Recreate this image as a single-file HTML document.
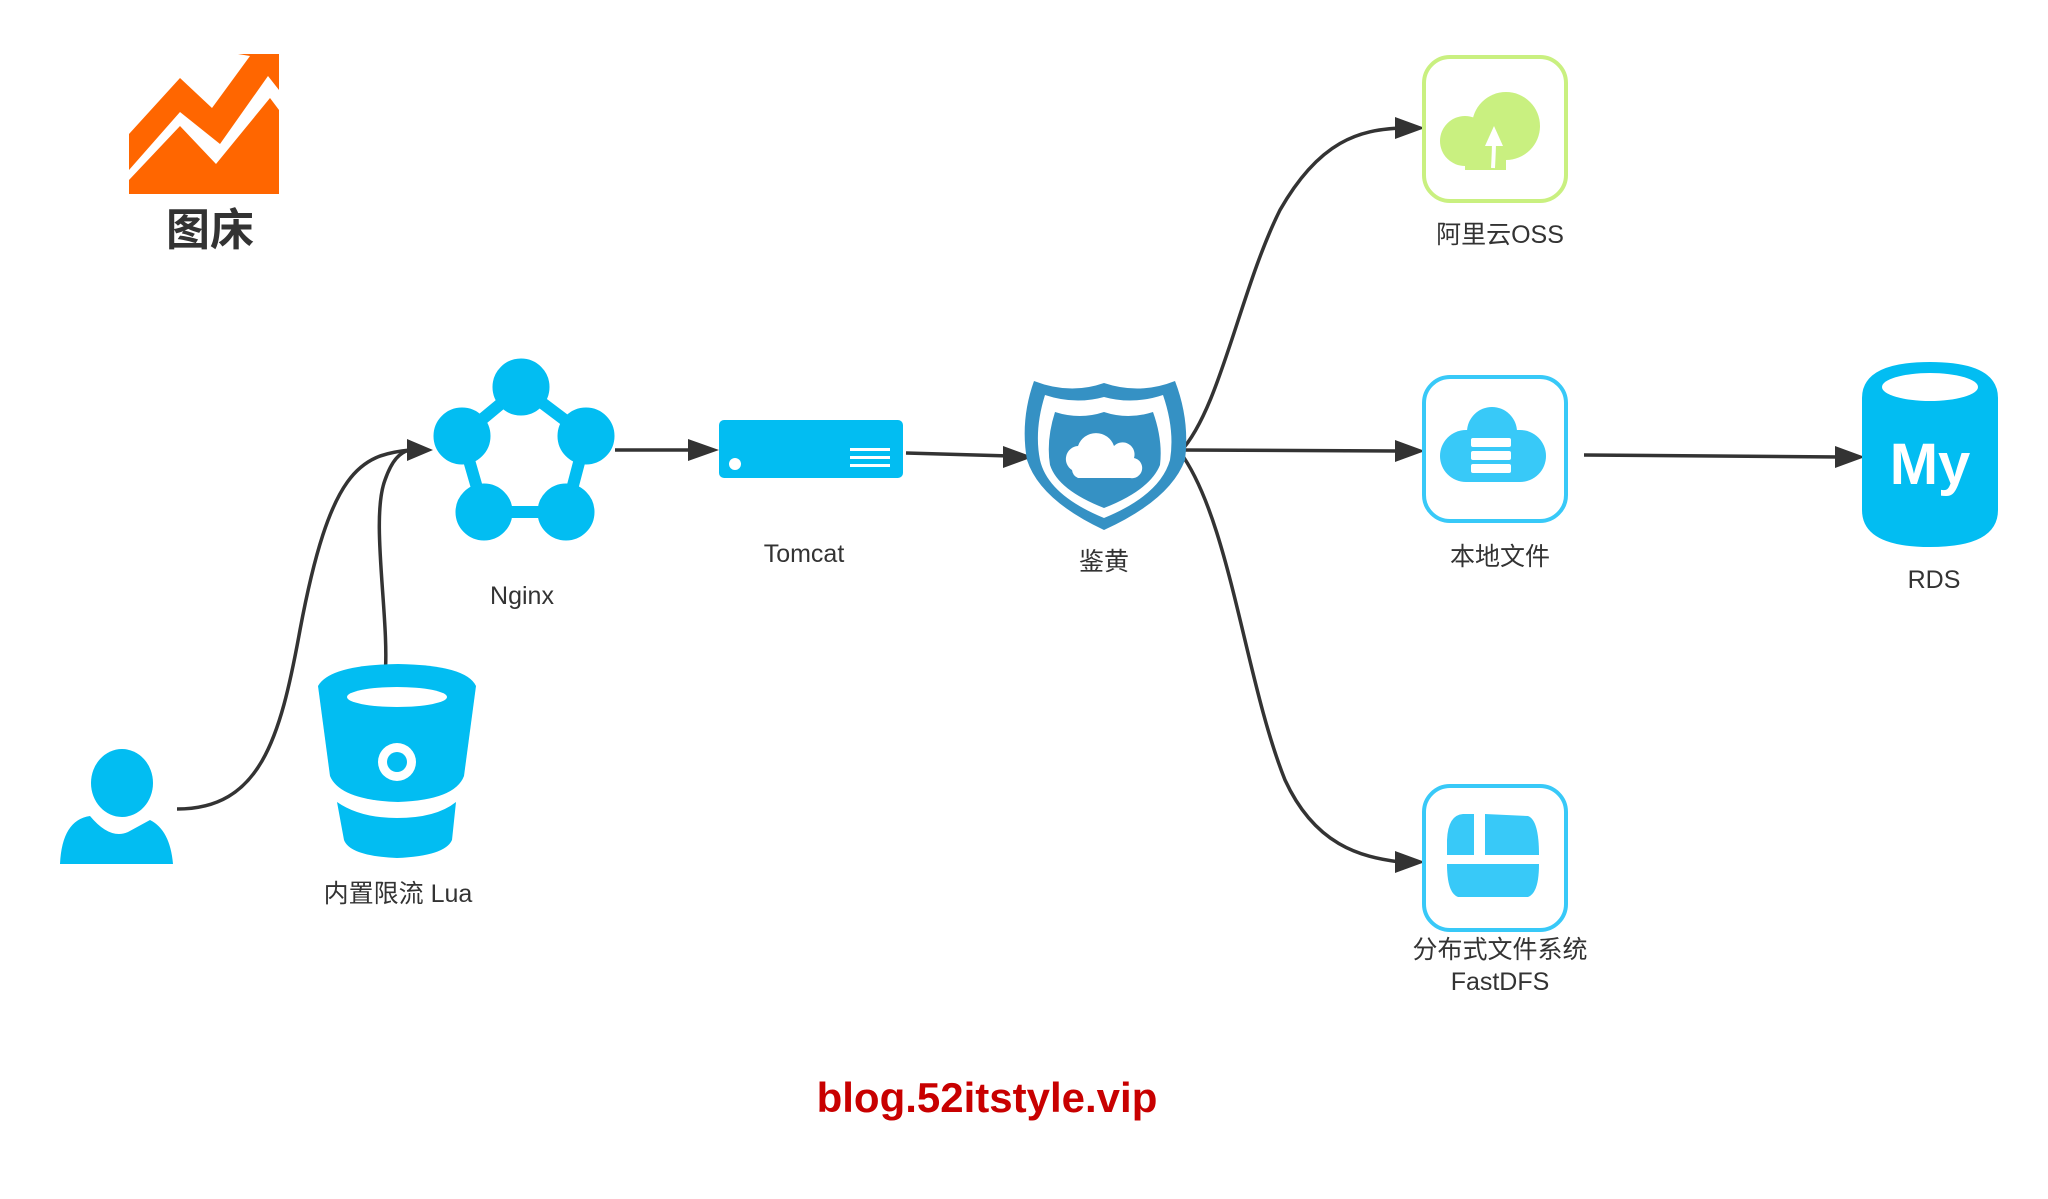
<!DOCTYPE html>
<html><head><meta charset="utf-8"><style>
html,body{margin:0;padding:0;background:#fff;}
svg{display:block;}
text{font-family:"Liberation Sans","Noto Sans CJK SC",sans-serif;fill:#333;}
</style></head><body>
<svg width="2048" height="1199" viewBox="0 0 2048 1199" xmlns="http://www.w3.org/2000/svg">
<!-- logo -->
<polygon points="129,134 180,78 212,108 250,56 238,54 279,54 279,90 268,76 220,144 180,112 129,170" fill="#ff6600"/>
<polygon points="129,180 180,126 216,164 270,98 279,110 279,194 129,194" fill="#ff6600"/>
<text x="210" y="245" font-size="44" font-weight="bold" text-anchor="middle" style="fill:#333">图床</text>

<!-- connectors -->
<g fill="none" stroke="#333" stroke-width="3.5">
<path d="M177,809 C260,809 280,740 300,630 C330,470 360,455 410,450"/>
<path d="M385,677 C390,620 370,520 385,480 C392,460 400,452 410,450"/>
<path d="M615,450 L695,450"/>
<path d="M906,453 L1010,456"/>
<path d="M1180,452 C1220,410 1240,290 1280,210 C1320,140 1360,130 1400,128"/>
<path d="M1180,450 L1400,451"/>
<path d="M1180,452 C1230,520 1245,680 1285,780 C1315,845 1360,857 1400,862"/>
<path d="M1584,455 L1840,457"/>
</g>
<g fill="#333">
<polygon points="433,450 407,439 407,461"/>
<polygon points="719,450 688,439 688,461"/>
<polygon points="1033,457 1003,446 1003,468"/>
<polygon points="1425,128 1395,117 1395,139"/>
<polygon points="1425,451 1395,440 1395,462"/>
<polygon points="1425,862 1395,851 1395,873"/>
<polygon points="1865,457 1835,446 1835,468"/>
</g>

<!-- Nginx -->
<g fill="#02bdf2" stroke="#02bdf2">
<polygon points="521,387 462,436 484,512 566,512 586,436" fill="none" stroke-width="12"/>
<circle cx="521" cy="387" r="28"/>
<circle cx="462" cy="436" r="28"/>
<circle cx="586" cy="436" r="28"/>
<circle cx="484" cy="512" r="28"/>
<circle cx="566" cy="512" r="28"/>
</g>
<text x="522" y="604" font-size="25" text-anchor="middle">Nginx</text>

<!-- Tomcat -->
<rect x="719" y="420" width="184" height="58" rx="5" fill="#02bdf2"/>
<ellipse cx="735" cy="464" rx="6" ry="6" fill="#fff"/>
<rect x="850" y="448" width="40" height="3" fill="#fff"/>
<rect x="850" y="456" width="40" height="3" fill="#fff"/>
<rect x="850" y="464" width="40" height="3" fill="#fff"/>
<text x="804" y="562" font-size="25" text-anchor="middle">Tomcat</text>

<!-- shield -->
<path d="M1034,381 Q1070,395 1104,383 Q1140,395 1175,381 Q1190,420 1185,460 Q1170,500 1104,530 Q1040,500 1027,460 Q1020,420 1034,381 Z" fill="#3591c4"/>
<path d="M1045,395 Q1075,405 1104,397 Q1133,405 1163,395 Q1175,430 1170,460 Q1160,495 1104,518 Q1048,495 1040,460 Q1034,430 1045,395 Z" fill="#fff"/>
<path d="M1055,412 Q1080,420 1104,412 Q1128,420 1153,412 Q1163,440 1160,465 Q1150,490 1104,508 Q1058,490 1050,465 Q1046,440 1055,412 Z" fill="#3591c4"/>
<path d="M1072,470 a13,13 0 0 1 6,-24 a19,19 0 0 1 36,0 a12,12 0 0 1 20,12 a10,10 0 0 1 -4,20 L1078,478 a10,10 0 0 1 -6,-8 Z" fill="#fff"/>
<text x="1104" y="570" font-size="25" text-anchor="middle">鉴黄</text>

<!-- OSS -->
<rect x="1424" y="57" width="142" height="144" rx="26" fill="#fff" stroke="#c9f080" stroke-width="4"/>
<circle cx="1506" cy="126" r="34" fill="#c9f080"/>
<circle cx="1465" cy="141" r="25" fill="#c9f080"/>
<rect x="1465" y="130" width="41" height="40" fill="#c9f080"/>
<path d="M1493,168 Q1494,150 1494,140" stroke="#fff" stroke-width="4" fill="none"/>
<polygon points="1494,126 1485,146 1503,146" fill="#fff"/>
<text x="1500" y="243" font-size="25" text-anchor="middle">阿里云OSS</text>

<!-- local -->
<rect x="1424" y="377" width="142" height="144" rx="26" fill="#fff" stroke="#38c9f8" stroke-width="4"/>
<circle cx="1492" cy="432" r="25" fill="#38c9f8"/>
<rect x="1440" y="430" width="106" height="52" rx="26" fill="#38c9f8"/>
<rect x="1471" y="438" width="40" height="9" rx="2" fill="#fff"/>
<rect x="1471" y="451" width="40" height="9" rx="2" fill="#fff"/>
<rect x="1471" y="464" width="40" height="9" rx="2" fill="#fff"/>
<text x="1500" y="565" font-size="25" text-anchor="middle">本地文件</text>

<!-- FastDFS -->
<rect x="1424" y="786" width="142" height="144" rx="26" fill="#fff" stroke="#38c9f8" stroke-width="4"/>
<path d="M1447,855 L1474,855 L1474,814 L1463,814 Q1448,815 1447,840 Z" fill="#38c9f8"/>
<path d="M1485,855 L1539,855 Q1539,820 1528,816 L1485,814 Z" fill="#38c9f8"/>
<path d="M1447,864 L1539,864 Q1539,893 1528,897 L1458,897 Q1447,893 1447,864 Z" fill="#38c9f8"/>
<text x="1500" y="958" font-size="25" text-anchor="middle">分布式文件系统</text>
<text x="1500" y="990" font-size="25" text-anchor="middle">FastDFS</text>

<!-- RDS -->
<path d="M1862,398 Q1862,362 1930,362 Q1998,362 1998,398 L1998,510 Q1998,547 1930,547 Q1862,547 1862,510 Z" fill="#02bdf2"/>
<ellipse cx="1930" cy="387" rx="48" ry="14" fill="#fff"/>
<text x="1930" y="484" font-size="58" font-weight="bold" text-anchor="middle" style="fill:#fff">My</text>
<text x="1934" y="588" font-size="25" text-anchor="middle">RDS</text>

<!-- user -->
<ellipse cx="122" cy="783" rx="31" ry="34" fill="#02bdf2"/>
<path d="M60,864 Q62,820 90,816 Q110,840 128,832 L150,820 Q170,830 173,864 Z" fill="#02bdf2"/>

<!-- bucket -->
<path d="M318,686 Q330,665 398,664 Q466,665 476,686 L464,776 Q455,800 398,802 Q340,800 330,776 Z" fill="#02bdf2"/>
<ellipse cx="397" cy="697" rx="50" ry="10" fill="#fff"/>
<circle cx="397" cy="762" r="19" fill="#fff"/>
<circle cx="397" cy="762" r="10" fill="#02bdf2"/>
<path d="M337,802 Q360,818 397,818 Q436,818 456,802 L452,840 Q445,856 397,858 Q350,856 344,840 Z" fill="#02bdf2"/>
<text x="398" y="902" font-size="25" text-anchor="middle">内置限流 Lua</text>

<text x="987" y="1112" font-size="42" font-weight="bold" text-anchor="middle" style="fill:#c80000">blog.52itstyle.vip</text>
</svg>
</body></html>
